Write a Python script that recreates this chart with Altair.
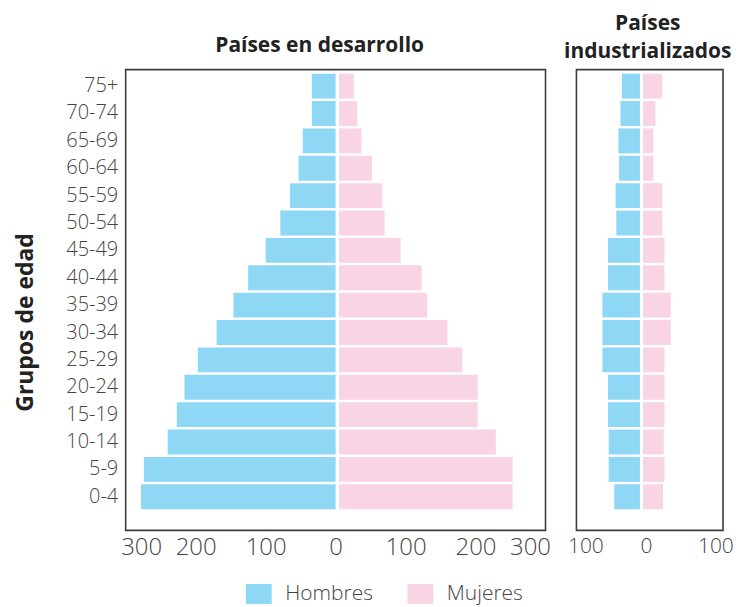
import altair as alt
import pandas as pd

# Age groups (ascending) and values
ages = ["0-4", "5-9", "10-14", "15-19", "20-24", "25-29", "30-34", "35-39",
        "40-44", "45-49", "50-54", "55-59", "60-64", "65-69", "70-74", "75+"]
dev_men = [278, 274, 240, 227, 216, 197, 170, 146, 125, 100, 79, 65, 53, 47, 34, 34]
dev_women = [248, 248, 224, 198, 198, 176, 155, 126, 118, 88, 65, 62, 47, 32, 26, 21]
ind_men = [37, 45, 45, 46, 46, 54, 54, 54, 46, 46, 34, 35, 30, 31, 28, 26]
ind_women = [29, 31, 30, 31, 31, 31, 40, 40, 31, 31, 28, 28, 15, 15, 18, 28]

sexes = ["Hombres", "Mujeres"]
dev_ticks = [-300, -200, -100, 0, 100, 200, 300]
ind_ticks = [-100, 0, 100]

BLUE = "#8fd8f5"
PINK = "#f8d4e5"
FONT = "Open Sans"

rows = []
for i, a in enumerate(ages):
    rows.append(dict(grupo=a, panel="dev", sexo="Hombres", valor=-dev_men[i]))
    rows.append(dict(grupo=a, panel="dev", sexo="Mujeres", valor=dev_women[i]))
    rows.append(dict(grupo=a, panel="ind", sexo="Hombres", valor=-ind_men[i]))
    rows.append(dict(grupo=a, panel="ind", sexo="Mujeres", valor=ind_women[i]))
df = pd.DataFrame(rows)

order = ages[::-1]

color = alt.Color(
    "sexo:N",
    scale=alt.Scale(domain=sexes, range=[BLUE, PINK]),
    legend=alt.Legend(
        orient="none", legendX=123, legendY=515, direction="horizontal",
        columns=2, title=None,
        symbolType="M-1.3,-1L1.3,-1L1.3,1L-1.3,1Z", symbolSize=400,
        symbolStrokeWidth=0, symbolOpacity=1,
        labelFontSize=21, labelFont=FONT, labelFontWeight=300, labelColor="#444",
        labelOffset=16, columnPadding=34,
    ),
)

yscale = alt.Scale(paddingInner=0.09, paddingOuter=0.46, align=0.16)


def panel(key, domain, ticks, men_off, women_off, width, title, yaxis,
          flush_off, lab_size):
    base = alt.Chart(df).transform_filter(alt.datum.panel == key)
    x = alt.X(
        "valor:Q",
        scale=alt.Scale(domain=domain, nice=False, zero=True),
        axis=alt.Axis(values=ticks, labelExpr="format(abs(datum.value), 'd')",
                      title=None, ticks=False, domain=False, grid=False,
                      labelFlush=True, labelFlushOffset=flush_off,
                      labelPadding=5, labelFontSize=lab_size, labelFont=FONT,
                      labelFontWeight=300, labelColor="#444"),
    )
    y = alt.Y("grupo:N", sort=order, scale=yscale, axis=yaxis)
    men = base.transform_filter(alt.datum.sexo == "Hombres").mark_bar(
        xOffset=men_off).encode(x=x, y=y, color=color)
    women = base.transform_filter(alt.datum.sexo == "Mujeres").mark_bar(
        xOffset=women_off).encode(x=x, y=y, color=color)
    return alt.layer(men, women).properties(width=width, height=462, title=title)


left_yaxis = alt.Axis(
    title="Grupos de edad", titleFontSize=23, titleFontWeight="bold",
    titleFont=FONT, titleColor="#222", titleX=-88, titleY=253,
    titleAngle=270, titleAlign="center", titleBaseline="bottom",
    ticks=False, domain=False, labelPadding=8, labelFontSize=20,
    labelFont=FONT, labelFontWeight=300, labelColor="#444",
)

left = panel(
    "dev", [-300, 300], dev_ticks, 0, 3.5, 421,
    alt.TitleParams("Países en desarrollo", dx=-16, offset=14, fontSize=21,
                    fontWeight="bold", font=FONT, color="#222"),
    left_yaxis, 5, 24,
)
right = panel(
    "ind", [-100, 111], ind_ticks, -6, -3, 147,
    alt.TitleParams(["Países", "industrializados"], dx=-2, offset=8,
                    fontSize=21, lineHeight=28, fontWeight="bold",
                    font=FONT, color="#222"),
    None, 9, 21,
)

chart = alt.hconcat(left, right, spacing=31, bounds="flush").configure_view(
    stroke="#3d3d3d", strokeWidth=1.6
).properties(padding={"left": 6, "top": 3, "right": 0, "bottom": 0})

chart.save("out.html", embed_options={"renderer": "svg", "actions": False})
